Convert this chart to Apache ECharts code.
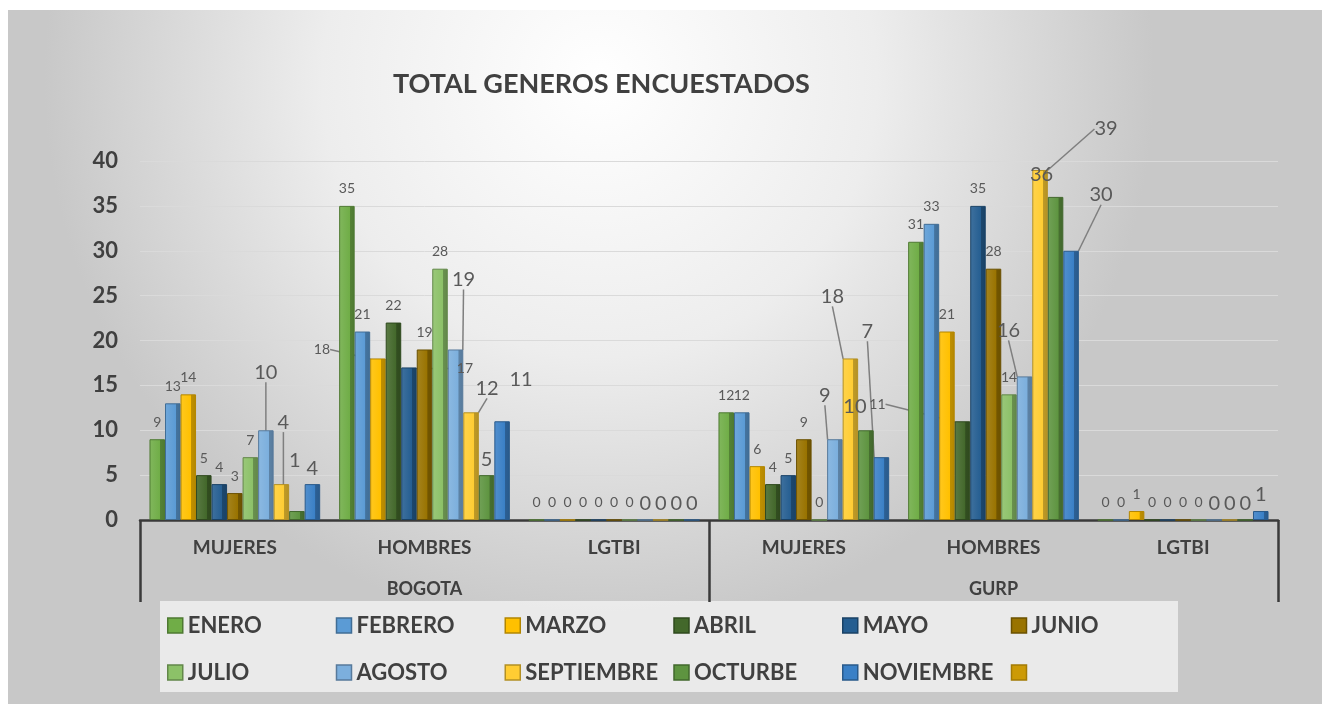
<!DOCTYPE html>
<html>
<head>
<meta charset="utf-8">
<script src="https://cdn.jsdelivr.net/npm/echarts@6/dist/echarts.min.js"></script>
<style>
html,body{margin:0;padding:0;background:#fff;}
#chart{width:1322px;height:704px;}
</style>
</head>
<body>
<div id="chart"></div>
<script>
// ---- DATA ----
var categories = ['MUJERES', 'HOMBRES', 'LGTBI', 'MUJERES', 'HOMBRES', 'LGTBI'];
var groups = ['BOGOTA', 'GURP'];
var seriesNames = ['ENERO', 'FEBRERO', 'MARZO', 'ABRIL', 'MAYO', 'JUNIO', 'JULIO', 'AGOSTO', 'SEPTIEMBRE', 'OCTURBE', 'NOVIEMBRE'];
var enero      = [9, 35, 0, 12, 31, 0];
var febrero    = [13, 21, 0, 12, 33, 0];
var marzo      = [14, 18, 0, 6, 21, 1];
var abril      = [5, 22, 0, 4, 11, 0];
var mayo       = [4, 17, 0, 5, 35, 0];
var junio      = [3, 19, 0, 9, 28, 0];
var julio      = [7, 28, 0, 0, 14, 0];
var agosto     = [10, 19, 0, 9, 16, 0];
var septiembre = [4, 12, 0, 18, 39, 0];
var octubre    = [1, 5, 0, 10, 36, 0];
var noviembre  = [4, 11, 0, 7, 30, 1];
var yTicks = [0, 5, 10, 15, 20, 25, 30, 35, 40];

var values = [enero, febrero, marzo, abril, mayo, junio, julio, agosto, septiembre, octubre, noviembre];
var colors = ['#70ad47', '#5b9bd5', '#ffc000', '#43682b', '#255e91', '#997300', '#8cc168', '#7cafdd', '#ffcd33', '#5e9440', '#3a80c6'];
var extraColor = '#cc9a06';

// label displacements (layout only), key "series-category": [dx, dy, leaderLine]
var labelNudges = {
  '8-4': [66, -25, true],  '10-4': [30, -40, true], '9-4': [-14, -6, false],
  '7-4': [-16, -30, true], '3-4': [-85, 0, true],
  '9-3': [-11, -8, false], '10-3': [-14, -110, true], '8-3': [-18, -46, true], '7-3': [-10, -28, true],
  '7-0': [0, -42, true], '8-0': [2, -46, true], '9-0': [-2, -34, false],
  '7-1': [8, -54, true], '8-1': [16, -8, true], '10-1': [19, -26, false],
  '2-1': [-56, 8, true], '4-1': [56, 18, true]
};

function shade(hex, f) {
  var n = parseInt(hex.slice(1), 16);
  var r = (n >> 16) & 255, g = (n >> 8) & 255, b = n & 255;
  function c(v) { return Math.max(0, Math.min(255, Math.round(f < 0 ? v * (1 + f) : v + (255 - v) * f))); }
  return 'rgb(' + c(r) + ',' + c(g) + ',' + c(b) + ')';
}

var FONT = 'Lato';
var series = seriesNames.map(function (name, i) {
  var base = colors[i];
  var big = i >= 7;
  return {
    name: name,
    type: 'bar',
    xAxisIndex: 0,
    data: values[i].map(function (v, j) {
      var nd = labelNudges[i + '-' + j];
      return nd && nd[2] ? { value: v, labelLine: { show: true } } : { value: v, labelLine: { show: false } };
    }),
    barGap: '0%',
    barCategoryGap: '10%',
    itemStyle: {
      color: new echarts.graphic.LinearGradient(0, 0, 1, 0, [
        { offset: 0, color: shade(base, 0.12) },
        { offset: 0.68, color: base },
        { offset: 0.7, color: shade(base, -0.25) },
        { offset: 1, color: shade(base, -0.3) }
      ]),
      borderColor: shade(base, -0.3),
      borderWidth: 1
    },
    label: {
      show: true,
      position: 'top',
      distance: big ? 6 : 10,
      fontFamily: FONT,
      fontSize: big ? 20 : 14,
      color: '#595959'
    },
    labelLine: { show: false, smooth: false, lineStyle: { color: '#7f7f7f', width: 1.5 } },
    labelLayout: function (p) {
      var nd = labelNudges[p.seriesIndex + '-' + p.dataIndex];
      return nd ? { dx: nd[0], dy: nd[1] } : {};
    }
  };
});
series.push({
  name: ' ',
  type: 'line',
  data: [],
  color: extraColor,
  itemStyle: { color: extraColor }
});

var legendData = seriesNames.map(function (n, i) {
  return { name: n, itemStyle: { color: colors[i], borderColor: shade(colors[i], -0.3), borderWidth: 1.5 } };
}).concat([{ name: ' ', itemStyle: { color: extraColor, borderColor: shade(extraColor, -0.2), borderWidth: 1.5 } }]);

var chart = echarts.init(document.getElementById('chart'), null, { renderer: 'canvas' });
chart.setOption({
  backgroundColor: '#ffffff',
  animation: false,
  color: colors.concat([extraColor]),
  graphic: [{
    type: 'rect',
    z: -10,
    silent: true,
    shape: { x: 8, y: 10, width: 1314, height: 694 },
    style: {
      fill: new echarts.graphic.RadialGradient(0.45, 0.1, 0.8, [
        { offset: 0, color: '#ffffff' },
        { offset: 0.5, color: '#ededed' },
        { offset: 1, color: '#c8c8c8' }
      ])
    }
  }, {
    type: 'rect',
    z: -5,
    silent: true,
    shape: { x: 160, y: 601, width: 1018, height: 91 },
    style: { fill: 'rgba(240,240,240,0.85)' }
  }],
  title: {
    text: 'TOTAL GENEROS ENCUESTADOS',
    left: 388,
    top: 66,
    textStyle: { fontFamily: FONT, fontSize: 27, fontWeight: 'bold', color: '#404040' }
  },
  grid: { left: 140, right: 44, top: 161, bottom: 184, containLabel: false },
  legend: {
    data: legendData,
    left: 167,
    top: 602,
    width: 1020,
    itemGap: 0,
    itemWidth: 15,
    itemHeight: 15,
    icon: 'rect',
    padding: 0,
    textStyle: {
      fontFamily: FONT, fontSize: 22, fontWeight: 'bold', color: '#404040',
      rich: { a: { width: 148, height: 47, lineHeight: 47, fontFamily: FONT, fontSize: 22, fontWeight: 'bold', color: '#404040' } }
    },
    formatter: function (n) { return '{a|' + n + '}'; }
  },
  xAxis: [{
    type: 'category',
    data: categories,
    position: 'bottom',
    axisLine: { show: true, lineStyle: { color: '#3a3a3a', width: 2.5 } },
    axisTick: { show: false },
    axisLabel: { margin: 18, fontFamily: FONT, fontSize: 19, fontWeight: 'bold', color: '#404040' }
  }, {
    type: 'category',
    data: groups,
    position: 'bottom',
    axisLine: { show: false },
    axisTick: { show: true, length: 82, lineStyle: { color: '#3a3a3a', width: 2.5 } },
    axisLabel: { margin: 60, fontFamily: FONT, fontSize: 18, fontWeight: 'bold', color: '#404040' }
  }],
  yAxis: {
    type: 'value',
    min: yTicks[0],
    max: yTicks[yTicks.length - 1],
    interval: 5,
    axisLine: { show: false },
    axisTick: { show: false },
    splitLine: { show: true, lineStyle: { color: '#dadada', width: 1 } },
    axisLabel: { margin: 22, fontFamily: FONT, fontSize: 22, fontWeight: 'bold', color: '#404040' }
  },
  series: series
});
</script>
</body>
</html>
